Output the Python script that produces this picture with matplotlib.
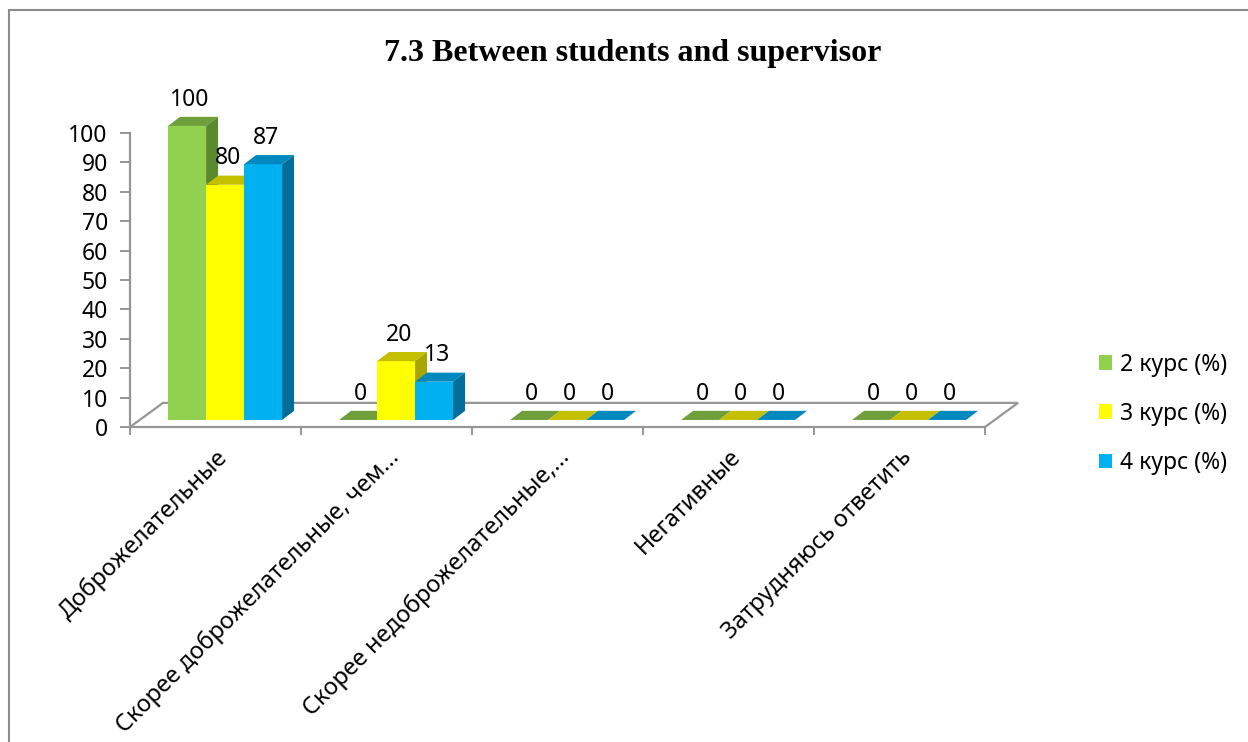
import matplotlib
matplotlib.use("Agg")
import matplotlib.pyplot as plt
from matplotlib.patches import Polygon, Rectangle
import numpy as np

# Data
categories = ['Доброжелательные', 'Скорее доброжелательные, чем...',
              'Скорее недоброжелательные,...', 'Негативные', 'Затрудняюсь ответить']
series_names = ['2 курс (%)', '3 курс (%)', '4 курс (%)']
course2 = [100, 0, 0, 0, 0]
course3 = [80, 20, 0, 0, 0]
course4 = [87, 13, 0, 0, 0]
yticks = [0, 10, 20, 30, 40, 50, 60, 70, 80, 90, 100]

front_colors = ['#92D050', '#FFFF00', '#00B0F0']
top_colors = ['#6F9E3A', '#C4C000', '#0088BF']
side_colors = ['#5B8A2E', '#A8A400', '#006E9A']

plt.rcParams['font.family'] = ['Noto Sans', 'DejaVu Sans']

W, H = 1248, 742
fig = plt.figure(figsize=(W / 100, H / 100), dpi=100)

# outer frame of the chart area
fig.patches.append(Rectangle((9 / W, -0.1), 1.2, 1 - 10 / H + 0.1, transform=fig.transFigure,
                             fill=False, edgecolor='#8C8C8C', linewidth=1.5))

fig.text(633 / W, 1 - 53 / H, '7.3 Between students and supervisor', ha='center', va='center',
         fontsize=23, fontweight='bold', family='Liberation Serif')

# axes: x 0..5 categories, y 0..100
ax = fig.add_axes([130 / W, 1 - 427 / H, 855 / W, 294 / H])
ax.set_xlim(0, len(categories))
ax.set_ylim(0, 100)
ax.patch.set_visible(False)

n = len(categories)
bw = 2 / 9
# depth vectors in data units
floor_dx, floor_dy = 0.193, 8.2
off_dx, off_dy = 0.056, 2.4
bar_dx, bar_dy = 0.070, 3.1

# floor
gray = '#969696'
ax.plot([0, floor_dx, n + floor_dx, n], [0, floor_dy, floor_dy, 0], color=gray, lw=1.6,
        clip_on=False, zorder=1, solid_joinstyle='miter')

data = [course2, course3, course4]
handles = []
for j, vals in enumerate(data):
    lefts = np.arange(n) + 1 / 6 + j * bw + off_dx
    bars = ax.bar(lefts, vals, width=bw, bottom=off_dy, align='edge', color=front_colors[j],
                  linewidth=0, zorder=2 + j, clip_on=False, label=series_names[j])
    handles.append(bars)
    for x0, v in zip(lefts, vals):
        ytop = off_dy + v
        top = Polygon([(x0, ytop), (x0 + bw, ytop), (x0 + bw + bar_dx, ytop + bar_dy),
                       (x0 + bar_dx, ytop + bar_dy)], closed=True, facecolor=top_colors[j],
                      edgecolor='none', zorder=2 + j, clip_on=False)
        ax.add_patch(top)
        if v > 0:
            side = Polygon([(x0 + bw, off_dy), (x0 + bw + bar_dx, off_dy + bar_dy),
                            (x0 + bw + bar_dx, ytop + bar_dy), (x0 + bw, ytop)], closed=True,
                           facecolor=side_colors[j], edgecolor='none', zorder=2 + j, clip_on=False)
            ax.add_patch(side)
        ax.annotate(str(v), (x0 + bw / 2, ytop), xytext=(2, 19), textcoords='offset points',
                    ha='center', va='center', fontsize=16.5, zorder=10, annotation_clip=False)

for s in ['top', 'right']:
    ax.spines[s].set_visible(False)
for s in ['left', 'bottom']:
    ax.spines[s].set_color(gray)
    ax.spines[s].set_linewidth(1.6)

ax.set_yticks(yticks)
ax.tick_params(axis='y', length=7, width=1.4, color=gray, labelsize=16.5, pad=9)
ax.set_xticks(np.arange(n + 1))
ax.set_xticklabels([])
ax.tick_params(axis='x', which='major', length=6, width=1.4, color=gray)
ax.set_xticks(np.arange(n) + 0.5, minor=True)
ax.set_xticklabels(categories, minor=True, rotation=45, ha='right', rotation_mode='anchor', fontsize=17)
ax.tick_params(axis='x', which='minor', length=0, pad=13)

fig.legend(handles=handles, loc='upper left', bbox_to_anchor=(1078 / W, 1 - 332 / H), frameon=False,
           fontsize=16.5, handlelength=0.6, handleheight=0.6, handletextpad=0.35, labelspacing=1.1)

fig.savefig('out.png', dpi=100)
